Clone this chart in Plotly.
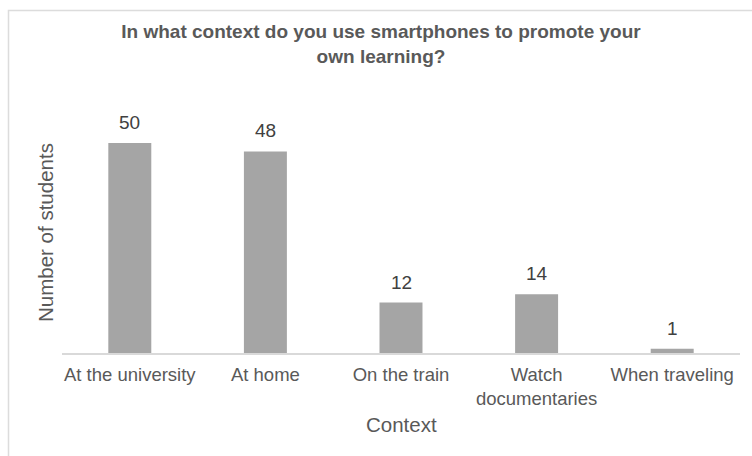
import plotly.graph_objects as go

categories = ["At the university", "At home", "On the train", "Watch<br>documentaries", "When traveling"]
students = [50, 48, 12, 14, 1]

TXT = "#595959"
FONT = "Liberation Sans, Arial, sans-serif"

fig = go.Figure()
fig.add_trace(go.Bar(
    x=categories, y=students,
    marker=dict(color="#a5a5a5", line=dict(width=0)),
    width=0.317,
    hoverinfo="x+y",
))

for c, v in zip(categories, students):
    fig.add_annotation(x=c, y=v, text=str(v), showarrow=False,
                       yanchor="bottom", yshift=8,
                       font=dict(family=FONT, size=19, color="#404040"))

# plot area: x 62..740, y 122..353
L, R, T, B = 62, 740, 122, 353
W, H = R - L, B - T

def px_x(p):
    return (p - L) / W

def px_y(p):
    return (B - p) / H

fig.add_shape(type="rect", xref="paper", yref="paper",
              x0=px_x(8.5), x1=px_x(800), y0=px_y(10.5), y1=px_y(500),
              line=dict(color="#dcdcdc", width=1.5), fillcolor="rgba(0,0,0,0)", layer="below")

fig.add_annotation(xref="paper", yref="paper", x=px_x(45), y=px_y(233),
                   text="Number of students", textangle=-90, showarrow=False,
                   xanchor="center", yanchor="middle",
                   font=dict(family=FONT, size=20.5, color=TXT))
fig.add_annotation(xref="paper", yref="paper", x=px_x(401), y=px_y(424),
                   text="Context", showarrow=False,
                   xanchor="center", yanchor="middle",
                   font=dict(family=FONT, size=20.5, color=TXT))

fig.update_layout(
    width=752, height=456,
    margin=dict(l=L, r=752 - R, t=T, b=456 - B),
    paper_bgcolor="white", plot_bgcolor="white",
    showlegend=False,
    title=dict(text="In what context do you use smartphones to promote your<br>own learning?",
               xref="container", x=381 / 752, xanchor="center",
               yref="container", y=1 - 38 / 456, yanchor="middle",
               font=dict(family=FONT, size=19, color=TXT, weight="bold")),
    font=dict(family=FONT, color=TXT),
    bargap=0.68,
)
fig.update_xaxes(showline=True, linecolor="#d9d9d9", linewidth=1.5, ticks="",
                 ticklabelstandoff=4,
                 tickfont=dict(family=FONT, size=18.5, color=TXT), showgrid=False,
                 fixedrange=True)
fig.update_yaxes(range=[0, 55], showticklabels=False, showgrid=False, zeroline=False,
                 showline=False, ticks="", fixedrange=True)

fig.write_html("out.html")
